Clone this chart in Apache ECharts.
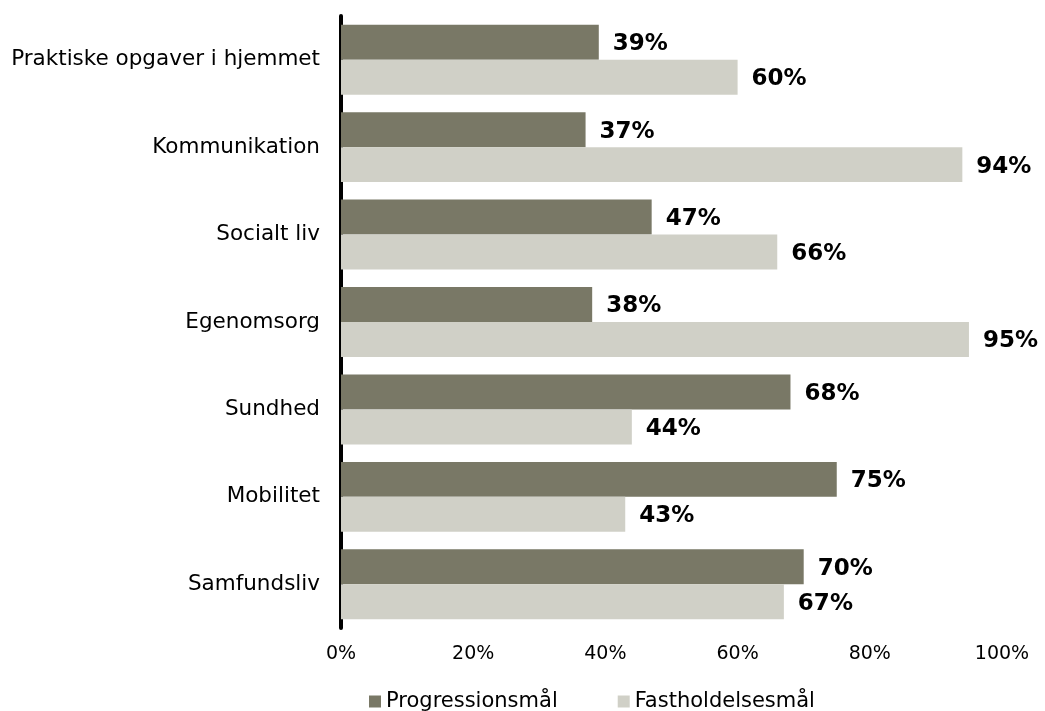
<!DOCTYPE html>
<html>
<head>
<meta charset="utf-8">
<script src="https://cdn.jsdelivr.net/npm/echarts@6/dist/echarts.min.js"></script>
<style>
  html, body { margin: 0; padding: 0; background: #ffffff; }
  #chart { width: 1045px; height: 711px; }
</style>
</head>
<body>
<div id="chart"></div>
<script>
// Goal areas, listed top to bottom
const categories = [
  'Praktiske opgaver i hjemmet',
  'Kommunikation',
  'Socialt liv',
  'Egenomsorg',
  'Sundhed',
  'Mobilitet',
  'Samfundsliv'
];
// Share of goals (%) per goal type
const progressionValues = [39, 37, 47, 38, 68, 75, 70];
const fastholdelseValues = [60, 94, 66, 95, 44, 43, 67];
const seriesNames = ['Progressionsmål', 'Fastholdelsesmål'];
const xTicks = [0, 20, 40, 60, 80, 100];

const FONT = '"DejaVu Sans", Verdana, sans-serif';
const DARK = '#797866';
const LIGHT = '#d0d0c7';

const chart = echarts.init(document.getElementById('chart'), null, { renderer: 'canvas' });

const valueLabel = {
  show: true,
  position: 'right',
  distance: 14,
  offset: [0, 2],
  formatter: p => p.value + '%',
  color: '#000000',
  fontFamily: FONT,
  fontWeight: 'bold',
  fontSize: 23
};

chart.setOption({
  animation: false,
  backgroundColor: '#ffffff',
  grid: { left: 341, right: 43, top: 16, bottom: 83, containLabel: false },
  legend: {
    data: seriesNames,
    left: 364,
    top: 686,
    icon: 'rect',
    itemWidth: 12,
    itemHeight: 12,
    itemGap: 60,
    textStyle: { fontFamily: FONT, fontSize: 21, color: '#000000' }
  },
  xAxis: {
    type: 'value',
    min: xTicks[0],
    max: xTicks[xTicks.length - 1],
    interval: xTicks[1] - xTicks[0],
    axisLine: { show: false },
    axisTick: { show: false },
    splitLine: { show: false },
    axisLabel: {
      formatter: '{value}%',
      margin: 17,
      color: '#000000',
      fontFamily: FONT,
      fontSize: 19
    }
  },
  yAxis: {
    type: 'category',
    data: categories,
    inverse: true,
    axisLine: { show: true, lineStyle: { color: '#000000', width: 4 } },
    axisTick: { show: false },
    axisLabel: {
      margin: 21,
      color: '#000000',
      fontFamily: FONT,
      fontSize: 21.5
    }
  },
  series: [
    {
      name: seriesNames[0],
      type: 'bar',
      data: progressionValues,
      barGap: '0%',
      barCategoryGap: '20%',
      itemStyle: { color: DARK },
      label: valueLabel
    },
    {
      name: seriesNames[1],
      type: 'bar',
      data: fastholdelseValues,
      barGap: '0%',
      barCategoryGap: '20%',
      itemStyle: { color: LIGHT },
      label: valueLabel
    }
  ]
});
</script>
</body>
</html>
